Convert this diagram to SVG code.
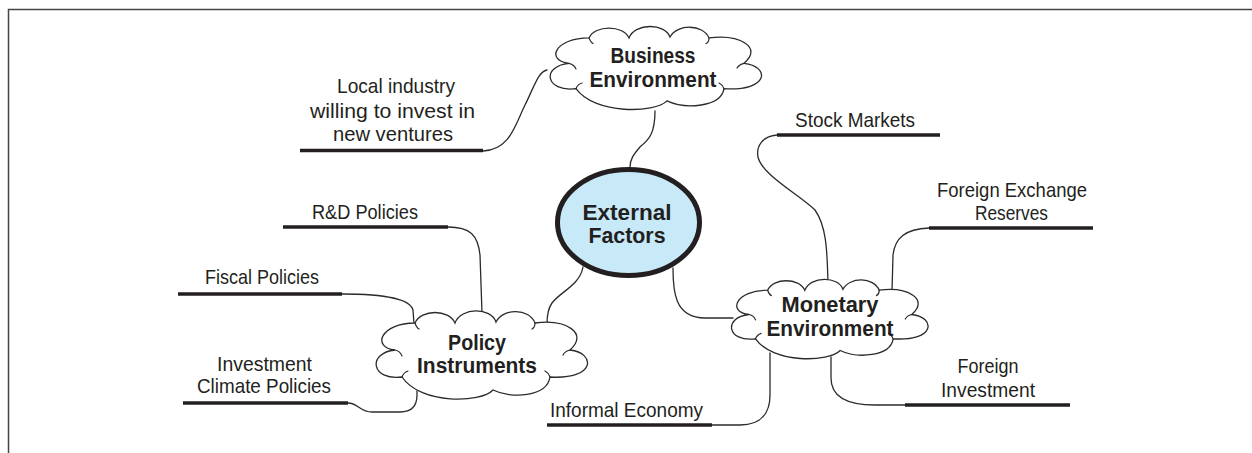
<svg xmlns="http://www.w3.org/2000/svg" xmlns:xlink="http://www.w3.org/1999/xlink" width="1252" height="453" viewBox="0 0 1252 453">
<style>
.frame{stroke:#444;stroke-width:1.5;fill:none}
.conn{stroke:#2b2b2b;stroke-width:1.3;fill:none;stroke-linecap:round}
.ul{stroke:#231f20;stroke-width:3.5;fill:none}
.cloud{fill:#fff;stroke:#2b2b2b;stroke-width:1.3;vector-effect:non-scaling-stroke}
.hook{fill:none;stroke:#2b2b2b;stroke-width:1.2;vector-effect:non-scaling-stroke;stroke-linecap:round}
.lbl{font-family:"Liberation Sans",Arial,sans-serif;font-size:21px;fill:#231f20;text-anchor:middle}
.hd{font-family:"Liberation Sans",Arial,sans-serif;font-size:22px;font-weight:bold;fill:#231f20;text-anchor:middle}
</style>
<defs>
<g id="cloudShape">
<path class="cloud" d="M-86,-5 C-110,-8 -100,-32 -66,-32 C-60,-46 -32,-46 -26,-32 C-20,-48 10,-48 15,-33 C22,-47 48,-47 54,-32 C85,-36 108,-22 89,-5 C115,-2 115,25 69,22 C66,42 30,44 12,35 C0,48 -60,50 -79,22 C-110,26 -114,-2 -86,-5 Z"/>
<path class="hook" d="M-86,-5 C-82,-4 -80,-2 -79,1 M-66,-32 C-65,-29 -64,-27 -62,-26 M54,-32 C54,-29 53,-27 51,-26 M89,-5 C85,-4 83,-2 82,0 M69,22 C68,19 66,17 64,16 M-79,22 C-78,19 -76,17 -73,16"/>
</g>
</defs>
<rect width="1252" height="453" fill="#fff"/>
<g id="frame">
<path class="frame" d="M8.5,453 L8.5,9.5 L1252,9.5"/>
</g>
<g id="connectors">
<path class="conn" d="M483,151 C510,150 515,125 525,105 C535,85 538,72 547,70"/>
<path class="conn" d="M655,111 C655,135 648,140 640,147 C633,155 630,160 630,167"/>
<path class="conn" d="M777,135 C762,136 756,147 758,157 C762,175 800,195 815,210 C828,228 827,260 828,282"/>
<path class="conn" d="M929,228 C905,229 895,238 893,255 L892,292"/>
<path class="conn" d="M673,268 C673,290 674,318 705,318 L733,318"/>
<path class="conn" d="M712,425 L740,425 C762,425 770,412 770,395 L770,353"/>
<path class="conn" d="M831,357 L831,378 C831,398 850,405 875,405 L905,405"/>
<path class="conn" d="M583,267 C580,285 560,292 552,303 C547,310 547,318 547,324"/>
<path class="conn" d="M448,227 C470,227 478,235 480,255 L482,313"/>
<path class="conn" d="M342,294 C380,294 410,298 413,310 L414,324"/>
<path class="conn" d="M348,403 C358,403 360,412 372,412 L400,412 C412,412 417,405 417,395 L417,391"/>
</g>
<g id="business-environment">
<use xlink:href="#cloudShape" transform="translate(655,68) scale(1.0,0.94)"/>
<text class="hd" x="653" y="63" textLength="85" lengthAdjust="spacingAndGlyphs">Business</text>
<text class="hd" x="653" y="87" textLength="127" lengthAdjust="spacingAndGlyphs">Environment</text>
</g>
<g id="external-factors">
<ellipse cx="628.5" cy="222.5" rx="71" ry="53" fill="#c8e9f8" stroke="#231f20" stroke-width="5"/>
<text class="hd" x="627" y="220" textLength="89" lengthAdjust="spacingAndGlyphs">External</text>
<text class="hd" x="627" y="243" textLength="77" lengthAdjust="spacingAndGlyphs">Factors</text>
</g>
<g id="monetary-environment">
<use xlink:href="#cloudShape" transform="translate(829,319) scale(0.93,0.9)"/>
<text class="hd" x="830" y="312" textLength="97" lengthAdjust="spacingAndGlyphs">Monetary</text>
<text class="hd" x="830" y="336" textLength="127" lengthAdjust="spacingAndGlyphs">Environment</text>
</g>
<g id="policy-instruments">
<use xlink:href="#cloudShape" transform="translate(481,355)"/>
<text class="hd" x="477" y="350" textLength="58" lengthAdjust="spacingAndGlyphs">Policy</text>
<text class="hd" x="477" y="373" textLength="120" lengthAdjust="spacingAndGlyphs">Instruments</text>
</g>
<g id="local-industry">
<text class="lbl" x="396" y="93" textLength="118" lengthAdjust="spacingAndGlyphs">Local industry</text>
<text class="lbl" x="392.5" y="118" textLength="165" lengthAdjust="spacingAndGlyphs">willing to invest in</text>
<text class="lbl" x="393" y="141" textLength="120" lengthAdjust="spacingAndGlyphs">new ventures</text>
<line class="ul" x1="300" y1="150.5" x2="483" y2="150.5"/>
</g>
<g id="stock-markets">
<text class="lbl" x="855" y="127" textLength="120" lengthAdjust="spacingAndGlyphs">Stock Markets</text>
<line class="ul" x1="777" y1="135" x2="940" y2="135"/>
</g>
<g id="foreign-exchange-reserves">
<text class="lbl" x="1012" y="197" textLength="150" lengthAdjust="spacingAndGlyphs">Foreign Exchange</text>
<text class="lbl" x="1011.5" y="220" textLength="73" lengthAdjust="spacingAndGlyphs">Reserves</text>
<line class="ul" x1="929" y1="228" x2="1093" y2="228"/>
</g>
<g id="foreign-investment">
<text class="lbl" x="988" y="373" textLength="61" lengthAdjust="spacingAndGlyphs">Foreign</text>
<text class="lbl" x="988" y="397" textLength="94" lengthAdjust="spacingAndGlyphs">Investment</text>
<line class="ul" x1="905" y1="405" x2="1070" y2="405"/>
</g>
<g id="informal-economy">
<text class="lbl" x="626.5" y="417" textLength="153" lengthAdjust="spacingAndGlyphs">Informal Economy</text>
<line class="ul" x1="547" y1="425" x2="712" y2="425"/>
</g>
<g id="rd-policies">
<text class="lbl" x="365" y="219" textLength="106" lengthAdjust="spacingAndGlyphs">R&amp;D Policies</text>
<line class="ul" x1="283" y1="227" x2="448" y2="227"/>
</g>
<g id="fiscal-policies">
<text class="lbl" x="262" y="284" textLength="114" lengthAdjust="spacingAndGlyphs">Fiscal Policies</text>
<line class="ul" x1="178" y1="294" x2="342" y2="294"/>
</g>
<g id="investment-climate-policies">
<text class="lbl" x="264.5" y="371" textLength="95" lengthAdjust="spacingAndGlyphs">Investment</text>
<text class="lbl" x="264" y="393" textLength="134" lengthAdjust="spacingAndGlyphs">Climate Policies</text>
<line class="ul" x1="183" y1="403" x2="348" y2="403"/>
</g>
</svg>
